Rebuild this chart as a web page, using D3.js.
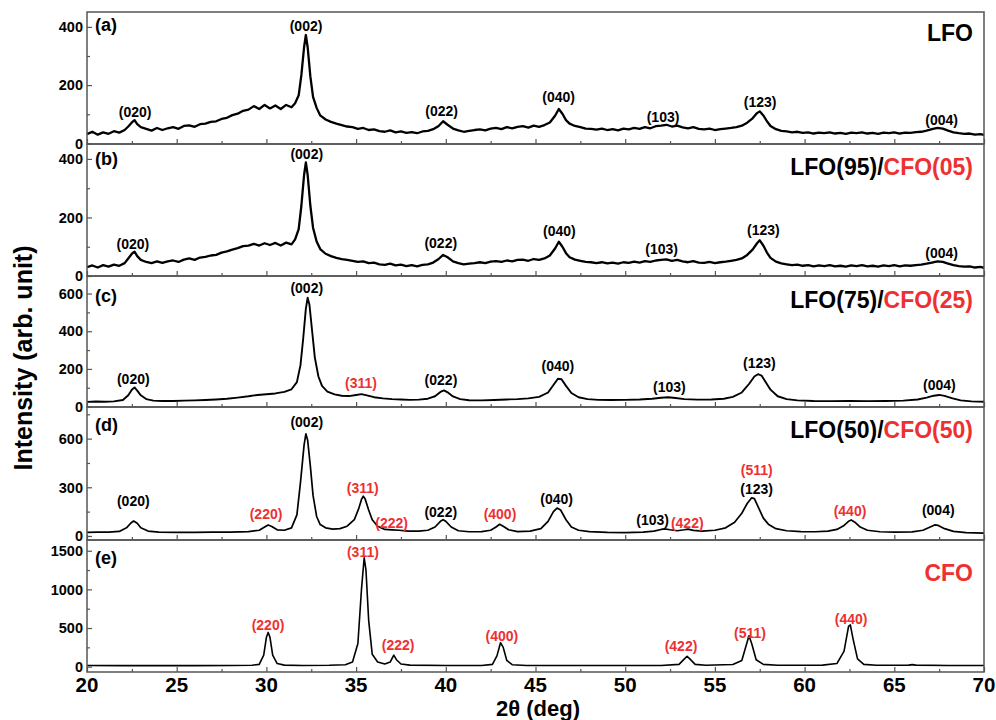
<!DOCTYPE html>
<html><head><meta charset="utf-8">
<script src="https://cdn.jsdelivr.net/npm/d3@7"></script>
<style>
body{margin:0;background:#fff}
svg{display:block}
text{font-family:"Liberation Sans",Arial,sans-serif;font-weight:bold}
</style>
</head><body>
<svg id="chart" width="996" height="720"></svg>
<script>
// ---------------- DATA ----------------
const xTickValues = [20, 25, 30, 35, 40, 45, 50, 55, 60, 65, 70];

// (a) LFO  [2theta, intensity]
const lfoData = [[20.0,32],[20.3,40],[20.6,30],[20.9,38],[21.2,33],[21.5,42],[21.8,37],[22.1,46],[22.3,58],[22.5,72],[22.65,80],[22.8,66],[23.0,56],[23.3,50],[23.6,44],[23.9,53],[24.2,46],[24.5,52],[24.8,56],[25.1,50],[25.4,60],[25.7,62],[26.0,57],[26.3,66],[26.6,68],[26.9,74],[27.2,76],[27.5,84],[27.8,88],[28.1,97],[28.4,102],[28.7,112],[29.0,116],[29.3,128],[29.6,118],[29.9,132],[30.2,120],[30.5,130],[30.8,118],[31.1,132],[31.4,124],[31.6,138],[31.8,165],[31.95,235],[32.1,330],[32.2,372],[32.3,330],[32.45,230],[32.6,160],[32.8,122],[33.0,96],[33.3,82],[33.6,74],[33.9,68],[34.2,63],[34.5,58],[34.8,56],[35.1,50],[35.4,53],[35.7,46],[36.0,48],[36.3,42],[36.6,40],[36.9,45],[37.2,38],[37.5,41],[37.8,36],[38.1,39],[38.4,35],[38.7,41],[39.0,43],[39.3,49],[39.6,60],[39.85,76],[40.1,64],[40.4,51],[40.7,45],[41.0,40],[41.3,43],[41.6,46],[41.9,48],[42.2,45],[42.5,51],[42.8,53],[43.1,49],[43.4,56],[43.7,52],[44.0,57],[44.3,59],[44.6,54],[44.9,61],[45.2,57],[45.5,63],[45.8,72],[46.1,96],[46.3,118],[46.5,102],[46.7,80],[46.9,68],[47.2,60],[47.5,56],[47.8,51],[48.1,50],[48.4,47],[48.7,51],[49.0,46],[49.3,49],[49.6,45],[49.9,51],[50.2,48],[50.5,53],[50.8,50],[51.1,56],[51.4,52],[51.7,59],[52.0,61],[52.3,64],[52.6,58],[52.9,61],[53.2,55],[53.5,52],[53.8,56],[54.1,50],[54.4,48],[54.7,51],[55.0,46],[55.3,49],[55.6,51],[55.9,53],[56.2,56],[56.5,61],[56.8,71],[57.1,86],[57.35,104],[57.5,110],[57.7,96],[57.9,76],[58.1,60],[58.4,49],[58.7,43],[59.0,41],[59.3,38],[59.6,40],[59.9,36],[60.2,38],[60.5,34],[60.8,37],[61.1,35],[61.4,38],[61.7,34],[62.0,36],[62.3,33],[62.6,37],[62.9,35],[63.2,38],[63.5,34],[63.8,36],[64.1,33],[64.4,37],[64.7,35],[65.0,38],[65.3,34],[65.6,37],[65.9,36],[66.2,39],[66.5,40],[66.8,44],[67.1,49],[67.4,53],[67.7,51],[68.0,44],[68.3,38],[68.6,35],[68.9,33],[69.2,34],[69.5,30],[69.8,32],[70.0,29]];

// (b) LFO(95)/CFO(05)
const lfo95Data = [[20.0,30],[20.3,36],[20.6,29],[20.9,37],[21.2,32],[21.5,39],[21.8,35],[22.1,44],[22.3,60],[22.5,76],[22.65,83],[22.8,68],[23.0,55],[23.3,48],[23.6,44],[23.9,50],[24.2,45],[24.5,50],[24.8,53],[25.1,48],[25.4,56],[25.7,60],[26.0,55],[26.3,63],[26.6,65],[26.9,70],[27.2,72],[27.5,80],[27.8,84],[28.1,90],[28.4,95],[28.7,102],[29.0,104],[29.3,110],[29.6,104],[29.9,112],[30.2,106],[30.5,113],[30.8,104],[31.1,114],[31.4,108],[31.6,125],[31.8,160],[31.95,240],[32.1,345],[32.2,388],[32.3,345],[32.45,240],[32.6,165],[32.8,118],[33.0,92],[33.3,76],[33.6,68],[33.9,62],[34.2,58],[34.5,55],[34.8,52],[35.1,48],[35.4,50],[35.7,44],[36.0,46],[36.3,40],[36.6,38],[36.9,42],[37.2,36],[37.5,39],[37.8,34],[38.1,37],[38.4,33],[38.7,38],[39.0,40],[39.3,46],[39.6,58],[39.85,72],[40.1,64],[40.4,50],[40.7,44],[41.0,40],[41.3,42],[41.6,44],[41.9,47],[42.2,44],[42.5,49],[42.8,51],[43.1,48],[43.4,53],[43.7,50],[44.0,55],[44.3,56],[44.6,52],[44.9,58],[45.2,55],[45.5,60],[45.8,70],[46.1,95],[46.3,117],[46.5,100],[46.7,78],[46.9,64],[47.2,56],[47.5,52],[47.8,48],[48.1,47],[48.4,44],[48.7,47],[49.0,43],[49.3,46],[49.6,42],[49.9,47],[50.2,45],[50.5,49],[50.8,46],[51.1,51],[51.4,48],[51.7,53],[52.0,55],[52.3,57],[52.6,52],[52.9,55],[53.2,50],[53.5,47],[53.8,51],[54.1,46],[54.4,45],[54.7,48],[55.0,44],[55.3,47],[55.6,49],[55.9,52],[56.2,55],[56.5,60],[56.8,72],[57.1,90],[57.35,112],[57.5,122],[57.7,104],[57.9,80],[58.1,62],[58.4,49],[58.7,43],[59.0,40],[59.3,37],[59.6,39],[59.9,35],[60.2,37],[60.5,33],[60.8,36],[61.1,34],[61.4,37],[61.7,33],[62.0,35],[62.3,32],[62.6,36],[62.9,34],[63.2,37],[63.5,33],[63.8,35],[64.1,32],[64.4,36],[64.7,34],[65.0,37],[65.3,33],[65.6,36],[65.9,35],[66.2,37],[66.5,39],[66.8,42],[67.1,46],[67.4,50],[67.7,48],[68.0,42],[68.3,37],[68.6,34],[68.9,32],[69.2,33],[69.5,29],[69.8,31],[70.0,28]];

// (c) LFO(75)/CFO(25)
const lfo75Data = [[20.0,25],[20.5,27],[21.0,26],[21.5,28],[22.0,35],[22.3,60],[22.5,90],[22.65,102],[22.8,85],[23.0,60],[23.3,40],[23.7,32],[24.2,30],[24.8,30],[25.4,32],[26.0,33],[26.6,35],[27.2,38],[27.8,42],[28.4,48],[29.0,55],[29.5,62],[30.0,66],[30.5,70],[31.0,78],[31.4,92],[31.7,130],[31.9,220],[32.05,360],[32.2,520],[32.3,578],[32.4,540],[32.55,400],[32.7,260],[32.9,160],[33.1,110],[33.4,80],[33.8,65],[34.2,58],[34.6,56],[35.0,62],[35.3,66],[35.6,60],[36.0,50],[36.5,44],[37.0,40],[37.5,38],[38.0,36],[38.5,37],[39.0,42],[39.4,55],[39.7,78],[39.9,86],[40.1,76],[40.4,54],[40.8,40],[41.3,34],[42.0,33],[42.7,35],[43.4,38],[44.0,40],[44.6,44],[45.2,52],[45.7,75],[46.0,115],[46.25,148],[46.45,145],[46.7,110],[47.0,72],[47.4,50],[47.9,40],[48.5,36],[49.2,35],[50.0,36],[50.8,38],[51.5,42],[52.0,47],[52.4,50],[52.8,46],[53.3,40],[54.0,37],[54.8,38],[55.5,42],[56.0,52],[56.5,75],[56.9,120],[57.2,160],[57.4,172],[57.6,165],[57.8,135],[58.1,90],[58.5,55],[59.0,40],[59.6,33],[60.5,30],[61.5,29],[62.5,30],[63.5,29],[64.5,30],[65.5,32],[66.3,38],[66.8,48],[67.2,58],[67.5,62],[67.8,57],[68.2,45],[68.7,33],[69.3,28],[70.0,26]];

// (d) LFO(50)/CFO(50)
const lfo50Data = [[20.0,22],[20.6,24],[21.2,23],[21.8,28],[22.2,50],[22.45,80],[22.6,92],[22.8,78],[23.0,50],[23.4,30],[24.0,24],[25.0,22],[26.0,22],[27.0,23],[28.0,24],[29.0,27],[29.6,35],[29.9,55],[30.1,68],[30.3,58],[30.6,38],[31.0,35],[31.4,50],[31.7,130],[31.9,330],[32.1,560],[32.2,630],[32.3,590],[32.45,430],[32.6,250],[32.8,120],[33.0,70],[33.3,50],[33.7,42],[34.1,45],[34.5,60],[34.9,100],[35.15,170],[35.3,225],[35.4,245],[35.5,230],[35.7,160],[35.9,100],[36.2,60],[36.6,40],[37.0,38],[37.4,35],[37.9,30],[38.5,30],[39.0,35],[39.4,55],[39.7,90],[39.85,100],[40.0,90],[40.3,55],[40.7,32],[41.3,26],[42.0,27],[42.5,35],[42.8,55],[43.0,72],[43.2,60],[43.5,38],[44.0,27],[44.7,30],[45.3,45],[45.7,90],[46.0,150],[46.2,172],[46.4,160],[46.7,100],[47.0,55],[47.4,35],[48.0,27],[49.0,22],[50.0,20],[51.0,23],[51.6,30],[52.0,40],[52.2,44],[52.5,38],[52.9,32],[53.3,38],[53.5,42],[53.8,34],[54.3,30],[55.0,35],[55.6,50],[56.1,85],[56.5,140],[56.8,200],[57.05,235],[57.2,230],[57.45,170],[57.7,110],[58.0,70],[58.4,45],[59.0,32],[59.8,27],[60.6,26],[61.3,30],[61.8,40],[62.2,65],[62.45,90],[62.6,98],[62.8,85],[63.1,55],[63.5,35],[64.2,26],[65.0,23],[66.0,25],[66.6,35],[67.0,55],[67.25,68],[67.45,65],[67.8,45],[68.3,28],[69.0,20],[70.0,18]];

// (e) CFO
const cfoData = [[20.0,15],[22.0,14],[24.0,13],[26.0,14],[28.0,15],[29.2,18],[29.6,30],[29.85,150],[30.0,380],[30.1,443],[30.2,380],[30.35,150],[30.6,40],[31.0,20],[32.0,16],[33.5,18],[34.4,25],[34.8,60],[35.1,300],[35.3,1000],[35.45,1410],[35.55,1250],[35.7,600],[35.9,160],[36.2,60],[36.6,35],[36.9,60],[37.1,150],[37.25,90],[37.5,35],[38.0,20],[40.0,15],[42.0,16],[42.6,30],[42.85,140],[43.05,310],[43.2,250],[43.4,80],[43.7,25],[44.5,16],[48.0,15],[52.0,16],[53.0,30],[53.3,100],[53.45,135],[53.6,100],[53.9,30],[54.5,18],[56.0,28],[56.5,80],[56.75,280],[56.9,400],[57.05,300],[57.3,90],[57.7,30],[58.5,18],[61.0,20],[61.8,40],[62.2,200],[62.45,520],[62.55,540],[62.7,360],[62.95,100],[63.3,30],[64.0,18],[65.8,20],[66.0,26],[66.2,20],[68.0,16],[70.0,15]];

// peak labels: [text, 2theta, intensity, phase]  (phase L = LFO, C = CFO)
const labelsA = [["(020)",22.68,108,"L"],["(002)",32.21,403,"L"],["(022)",39.77,113,"L"],["(040)",46.29,161,"L"],["(103)",52.11,92,"L"],["(123)",57.52,142,"L"],["(004)",67.64,81,"L"]];
const labelsB = [["(020)",22.56,109,"L"],["(002)",32.25,416,"L"],["(022)",39.72,112,"L"],["(040)",46.33,155,"L"],["(103)",52.03,91,"L"],["(123)",57.70,157,"L"],["(004)",67.64,78,"L"]];
const labelsC = [["(020)",22.58,147,"L"],["(002)",32.25,628,"L"],["(311)",35.27,126,"C"],["(022)",39.73,142,"L"],["(040)",46.25,216,"L"],["(103)",52.46,106,"L"],["(123)",57.48,229,"L"],["(004)",67.51,115,"L"]];
const labelsD = [["(020)",22.58,213,"L"],["(220)",29.98,136,"C"],["(002)",32.25,702,"L"],["(311)",35.37,298,"C"],["(222)",36.98,83,"C"],["(022)",39.72,146,"L"],["(400)",43.02,136,"C"],["(040)",46.18,229,"L"],["(103)",51.53,98,"L"],["(422)",53.46,77,"C"],["(511)",57.33,406,"C"],["(123)",57.33,292,"L"],["(440)",62.53,152,"C"],["(004)",67.45,161,"L"]];
const labelsE = [["(220)",30.09,544,"C"],["(311)",35.38,1478,"C"],["(222)",37.34,283,"C"],["(400)",43.13,400,"C"],["(422)",53.11,270,"C"],["(511)",56.96,439,"C"],["(440)",62.59,622,"C"]];

// sample names: [text, phase]
const titleA = [["LFO","L"]];
const titleB = [["LFO(95)/","L"],["CFO(05)","C"]];
const titleC = [["LFO(75)/","L"],["CFO(25)","C"]];
const titleD = [["LFO(50)/","L"],["CFO(50)","C"]];
const titleE = [["CFO","C"]];

const yTicksA = [0,200,400], yTicksB = [0,200,400], yTicksC = [0,200,400,600], yTicksD = [0,300,600], yTicksE = [0,500,1000,1500];

// ---------------- DRAWING ----------------
const RED = "#ee3030", BLACK = "#000";
const phaseColor = p => p === "C" ? RED : BLACK;
const svg = d3.select("#chart");
const x = d3.scaleLinear().domain([20,70]).range([87,984]);

const panels = [
  {data:lfoData,   labels:labelsA, title:titleA, letter:"(a)", top:12,  bottom:144, domain:[-2,451],  ticks:yTicksA, step:100, lw:2.3, titleY:33,  letterY:25},
  {data:lfo95Data, labels:labelsB, title:titleB, letter:"(b)", top:144, bottom:276, domain:[0,451],   ticks:yTicksB, step:100, lw:2.3, titleY:167, letterY:159},
  {data:lfo75Data, labels:labelsC, title:titleC, letter:"(c)", top:276, bottom:407, domain:[-2,693],  ticks:yTicksC, step:100, lw:1.9, titleY:300, letterY:296},
  {data:lfo50Data, labels:labelsD, title:titleD, letter:"(d)", top:407, bottom:540, domain:[-25,795], ticks:yTicksD, step:150, lw:1.7, titleY:430, letterY:425},
  {data:cfoData,   labels:labelsE, title:titleE, letter:"(e)", top:540, bottom:672, domain:[-69,1639],ticks:yTicksE, step:250, lw:1.6, titleY:573, letterY:558}
];

const defs = svg.append("defs");

panels.forEach((p, i) => {
  const y = d3.scaleLinear().domain(p.domain).range([p.bottom, p.top]);
  const g = svg.append("g");

  defs.append("clipPath").attr("id","clip"+i).append("rect")
    .attr("x",87).attr("y",p.top).attr("width",984-87).attr("height",p.bottom-p.top);

  // trace
  g.append("path").datum(p.data)
    .attr("clip-path","url(#clip"+i+")")
    .attr("fill","none").attr("stroke","#000").attr("stroke-width",p.lw)
    .attr("stroke-linejoin","round")
    .attr("d", d3.line().x(d=>x(d[0])).y(d=>y(d[1])));

  // left axis (inward ticks)
  const minor = d3.range(p.step, p.domain[1], p.step).filter(v=>!p.ticks.includes(v));
  const yAx = g.append("g").attr("transform","translate(87,0)");
  yAx.call(d3.axisRight(y).tickValues(minor).tickSize(3).tickFormat(""));
  yAx.select(".domain").remove();
  const yAx2 = g.append("g").attr("transform","translate(87,0)");
  yAx2.call(d3.axisRight(y).tickValues(p.ticks).tickSize(5).tickFormat(""));
  yAx2.select(".domain").remove();
  g.selectAll(".tick line").attr("stroke","#555").attr("stroke-width",1.2);
  g.append("g").selectAll("text").data(p.ticks).join("text")
    .attr("x",83).attr("y",d=>y(d)).attr("dy","0.36em")
    .attr("text-anchor","end").attr("font-size",14.5).attr("fill","#000")
    .text(d=>d);

  // bottom axis (inward ticks)
  const xMinor = d3.range(22.5, 70, 5);
  const xa = g.append("g").attr("transform",`translate(0,${p.bottom})`);
  xa.call(d3.axisTop(x).tickValues(xTickValues).tickSize(5).tickFormat(""));
  xa.select(".domain").remove();
  const xb = g.append("g").attr("transform",`translate(0,${p.bottom})`);
  xb.call(d3.axisTop(x).tickValues(xMinor).tickSize(3).tickFormat(""));
  xb.select(".domain").remove();
  xa.selectAll(".tick line").attr("stroke","#555").attr("stroke-width",1.2);
  xb.selectAll(".tick line").attr("stroke","#555").attr("stroke-width",1.2);

  // frame
  g.append("rect").attr("x",87).attr("y",p.top).attr("width",984-87).attr("height",p.bottom-p.top)
    .attr("fill","none").attr("stroke","#555").attr("stroke-width",1.5);

  // peak labels
  g.append("g").selectAll("text").data(p.labels).join("text")
    .attr("x",d=>x(d[1])).attr("y",d=>y(d[2])).attr("dy","0.36em")
    .attr("text-anchor","middle").attr("font-size",14)
    .attr("fill",d=>phaseColor(d[3])).text(d=>d[0]);

  // panel letter
  g.append("text").attr("x",95).attr("y",p.letterY).attr("dy","0.36em")
    .attr("font-size",18).attr("fill","#000").text(p.letter);

  // sample name
  const t = g.append("text").attr("x",973).attr("y",p.titleY).attr("dy","0.36em")
    .attr("text-anchor","end").attr("font-size",23);
  t.selectAll("tspan").data(p.title).join("tspan")
    .attr("fill",d=>phaseColor(d[1])).text(d=>d[0]);
});

// x tick labels
svg.append("g").selectAll("text").data(xTickValues).join("text")
  .attr("x",d=>x(d)).attr("y",692).attr("text-anchor","middle")
  .attr("font-size",20.5).attr("fill","#000").text(d=>d);

// axis titles
svg.append("text").attr("x",538).attr("y",716).attr("text-anchor","middle")
  .attr("font-size",22).attr("fill","#000").text("2θ (deg)");
svg.append("text").attr("transform","translate(32,358) rotate(-90)")
  .attr("text-anchor","middle").attr("font-size",25).attr("fill","#000")
  .text("Intensity (arb. unit)");
</script>
</body></html>
